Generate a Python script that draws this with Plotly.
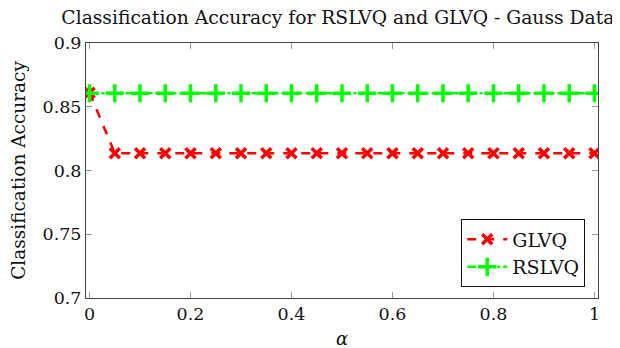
import plotly.graph_objects as go

alpha = [round(i * 0.05, 2) for i in range(21)]
glvq = [0.861] + [0.8136] * 20
rslvq = [0.8606] * 21
x_ticks = [0, 0.2, 0.4, 0.6, 0.8, 1]
x_tick_labels = ["0", "0.2", "0.4", "0.6", "0.8", "1"]
y_ticks = [0.7, 0.75, 0.8, 0.85, 0.9]
y_tick_labels = ["0.7", "0.75", "0.8", "0.85", "0.9"]

font = "'DejaVu Serif'"

fig = go.Figure()
fig.add_trace(go.Scatter(
    x=alpha, y=glvq, name="GLVQ", mode="lines+markers",
    line=dict(color="#ff0000", width=2.5, dash="dash"),
    marker=dict(symbol="x-thin", size=10, color="#ff0000",
                line=dict(color="#ff0000", width=3.5)),
))
fig.add_trace(go.Scatter(
    x=alpha, y=rslvq, name="RSLVQ", mode="lines+markers",
    line=dict(color="#00ff00", width=2.5, dash="dashdot"),
    marker=dict(symbol="cross-thin", size=13, color="#00ff00",
                line=dict(color="#00ff00", width=3.5)),
))

axis_common = dict(
    showgrid=False, zeroline=False, showline=True, linecolor="#444444",
    linewidth=1, mirror="ticks", ticks="inside", ticklen=6, automargin=False,
    tickcolor="#999999", tickfont=dict(family=font, size=17.5, color="#111111"),
)
fig.update_layout(
    width=620, height=348,
    margin=dict(l=78, r=30, t=35, b=58),
    paper_bgcolor="white", plot_bgcolor="white",
    title=dict(text="Classification Accuracy for RSLVQ and GLVQ - Gauss Data",
               x=0.532, xanchor="center", y=0.992, yanchor="top",
               font=dict(family=font, size=18.7, color="#111111")),
    xaxis=dict(range=[-0.007, 1.007], tickvals=x_ticks, ticktext=x_tick_labels,
               title=dict(text="<i>α</i>", font=dict(family=font, size=18, color="#111111"), standoff=9),
               **axis_common),
    yaxis=dict(range=[0.7, 0.9], tickvals=y_ticks, ticktext=y_tick_labels,
               title=dict(text="Classification Accuracy", font=dict(family=font, size=18.5, color="#111111"), standoff=12),
               **axis_common),
    legend=dict(x=0.975, y=0.042, xanchor="right", yanchor="bottom",
                bordercolor="#111111", borderwidth=1, bgcolor="white",
                font=dict(family=font, size=19, color="#111111"),
                itemwidth=40, tracegroupgap=0),
    showlegend=True,
)
fig.write_html("out.html")
